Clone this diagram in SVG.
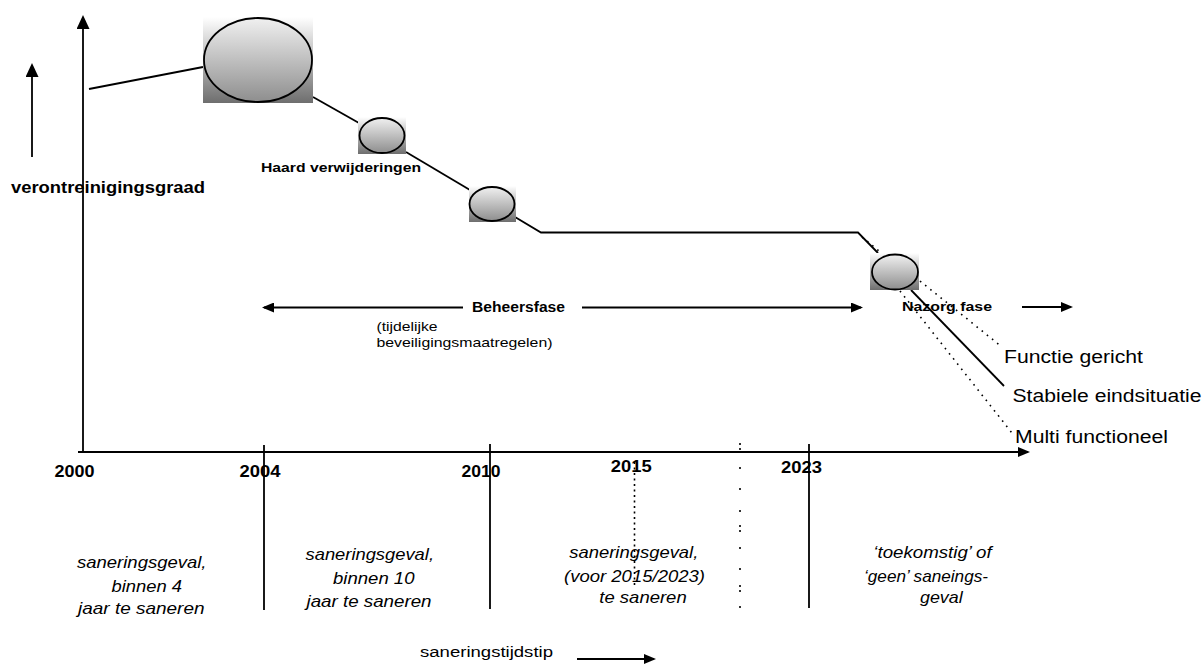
<svg xmlns="http://www.w3.org/2000/svg" width="1203" height="664" viewBox="0 0 1203 664">
<style>
text{font-family:"Liberation Sans",Arial,sans-serif;fill:#000}
.b{font-weight:bold}
.i{font-style:italic}
.ln{stroke:#000;stroke-width:1.8;fill:none}
.dot{stroke:#000;stroke-width:1.6;fill:none;stroke-dasharray:1.6 5}
.box{fill:url(#gBox)}
.ell{fill:url(#gEll);stroke:#000;stroke-width:1.8}
</style>
<defs>
<linearGradient id="gBox" x1="0" y1="0" x2="0" y2="1"><stop offset="0" stop-color="#ffffff"/><stop offset="1" stop-color="#6e6e6e"/></linearGradient>
<linearGradient id="gEll" x1="0" y1="0" x2="0" y2="1"><stop offset="0" stop-color="#f0f0f0"/><stop offset="1" stop-color="#8e8e8e"/></linearGradient>
<marker id="ah" viewBox="0 0 12 10" refX="10" refY="5" markerWidth="12" markerHeight="10" orient="auto-start-reverse" markerUnits="userSpaceOnUse"><path d="M0,0 L12,5 L0,10 Z" fill="#000"/></marker>
<marker id="ahL" viewBox="0 0 14 13" refX="12" refY="6.5" markerWidth="14" markerHeight="13" orient="auto" markerUnits="userSpaceOnUse"><path d="M0,0 L14,6.5 L0,13 Z" fill="#000"/></marker>
</defs>

<g id="axes">
<line class="ln" x1="83" y1="452" x2="83" y2="17" marker-end="url(#ahL)"/>
<line class="ln" x1="78" y1="452" x2="1028" y2="452" marker-end="url(#ah)"/>
<line class="ln" x1="32" y1="157" x2="32" y2="65" marker-end="url(#ahL)"/>
<line class="ln" x1="264" y1="445" x2="264" y2="610"/>
<line class="ln" x1="490" y1="444" x2="490" y2="609"/>
<line class="ln" x1="809" y1="444" x2="809" y2="608"/>
<line x1="634.5" y1="462" x2="634.5" y2="587" stroke="#000" stroke-width="1.6" stroke-dasharray="2 3.5"/>
<path d="M740,443v2M740,448v2M740,467v2M740,488v2M740,510v2M740,525v2M740,530v2M740,547v2M740,568v2M740,585v2M740,590v2M740,606v2" stroke="#000" stroke-width="1.6"/>
</g>

<g id="connectors">
<line class="ln" x1="89" y1="89" x2="203" y2="67"/>
<line class="ln" x1="313" y1="97" x2="359" y2="123"/>
<line class="ln" x1="406" y1="152" x2="470" y2="190"/>
<polyline class="ln" points="515,217 541,232.5 858,232.5 878,253"/>
<line class="dot" x1="862" y1="237" x2="879" y2="251"/>
<line class="ln" x1="911" y1="290" x2="1004" y2="386"/>
<line class="dot" x1="920" y1="281" x2="1002" y2="347"/>
<line class="dot" x1="900" y1="291" x2="1012" y2="433"/>
<line class="ln" x1="463" y1="307.5" x2="264" y2="307.5" marker-end="url(#ah)"/>
<line class="ln" x1="582" y1="307.5" x2="861" y2="307.5" marker-end="url(#ah)"/>
<line class="ln" x1="1022" y1="307" x2="1071" y2="307" marker-end="url(#ah)"/>
<line class="ln" x1="577" y1="659" x2="654" y2="659" marker-end="url(#ah)"/>
</g>

<g id="node-big">
<rect class="box" x="203" y="17" width="110" height="86"/>
<ellipse class="ell" cx="258" cy="60" rx="54" ry="42"/>
</g>
<g id="node-haard">
<rect class="box" x="358" y="117" width="48" height="37"/>
<ellipse class="ell" cx="382" cy="135.5" rx="22.5" ry="17.5"/>
</g>
<g id="node-mid">
<rect class="box" x="469" y="186" width="47" height="36"/>
<ellipse class="ell" cx="492" cy="204" rx="22.5" ry="17"/>
</g>
<g id="node-nazorg">
<rect class="box" x="870" y="253" width="49" height="37"/>
<ellipse class="ell" cx="895" cy="272" rx="23" ry="17.5"/>
</g>

<g id="labels">
<text class="b" x="11" y="193" font-size="16" textLength="194" lengthAdjust="spacingAndGlyphs">verontreinigingsgraad</text>
<text class="b" x="261" y="172" font-size="13.5" textLength="160" lengthAdjust="spacingAndGlyphs">Haard verwijderingen</text>
<text class="b" x="472" y="311.5" font-size="14" textLength="93" lengthAdjust="spacingAndGlyphs">Beheersfase</text>
<text x="376.5" y="330.7" font-size="13.5" textLength="61" lengthAdjust="spacingAndGlyphs">(tijdelijke</text>
<text x="376.5" y="347.3" font-size="13.5" textLength="176" lengthAdjust="spacingAndGlyphs">beveiligingsmaatregelen)</text>
<text class="b" x="902" y="310.7" font-size="13.5" textLength="90" lengthAdjust="spacingAndGlyphs">Nazorg fase</text>
<text x="1004" y="363.3" font-size="17.5" textLength="139" lengthAdjust="spacingAndGlyphs">Functie gericht</text>
<text x="1012.5" y="401.7" font-size="17.5" textLength="189" lengthAdjust="spacingAndGlyphs">Stabiele eindsituatie</text>
<text x="1015" y="443.3" font-size="17.5" textLength="153" lengthAdjust="spacingAndGlyphs">Multi functioneel</text>

<text class="b" x="54.5" y="477" font-size="16.5" textLength="40" lengthAdjust="spacingAndGlyphs">2000</text>
<text class="b" x="239.5" y="477" font-size="16.5" textLength="41" lengthAdjust="spacingAndGlyphs">2004</text>
<text class="b" x="461.5" y="477" font-size="16.5" textLength="39" lengthAdjust="spacingAndGlyphs">2010</text>
<text class="b" x="610.7" y="472" font-size="16.5" textLength="41" lengthAdjust="spacingAndGlyphs">2015</text>
<text class="b" x="781" y="472.5" font-size="16.5" textLength="41" lengthAdjust="spacingAndGlyphs">2023</text>

<text class="i" x="77" y="568" font-size="17" textLength="129.5" lengthAdjust="spacingAndGlyphs">saneringsgeval,</text>
<text class="i" x="111.5" y="591.5" font-size="17" textLength="70.5" lengthAdjust="spacingAndGlyphs">binnen 4</text>
<text class="i" x="78" y="614" font-size="17" textLength="126.5" lengthAdjust="spacingAndGlyphs">jaar te saneren</text>

<text class="i" x="305.5" y="560" font-size="17" textLength="128.5" lengthAdjust="spacingAndGlyphs">saneringsgeval,</text>
<text class="i" x="333" y="584" font-size="17" textLength="81.5" lengthAdjust="spacingAndGlyphs">binnen 10</text>
<text class="i" x="306.5" y="607" font-size="17" textLength="125" lengthAdjust="spacingAndGlyphs">jaar te saneren</text>

<text class="i" x="569.3" y="558.3" font-size="17" textLength="129" lengthAdjust="spacingAndGlyphs">saneringsgeval,</text>
<text class="i" x="564" y="581.7" font-size="17" textLength="141" lengthAdjust="spacingAndGlyphs">(voor 2015/2023)</text>
<text class="i" x="599.3" y="602.7" font-size="17" textLength="87.4" lengthAdjust="spacingAndGlyphs">te saneren</text>

<text class="i" x="873.3" y="558.3" font-size="17" textLength="118.4" lengthAdjust="spacingAndGlyphs">‘toekomstig’ of</text>
<text class="i" x="864" y="582" font-size="17" textLength="124" lengthAdjust="spacingAndGlyphs">‘geen’ saneings-</text>
<text class="i" x="920" y="603.3" font-size="17" textLength="42.7" lengthAdjust="spacingAndGlyphs">geval</text>

<text x="420" y="656.7" font-size="15.5" textLength="133" lengthAdjust="spacingAndGlyphs">saneringstijdstip</text>
</g>
</svg>
